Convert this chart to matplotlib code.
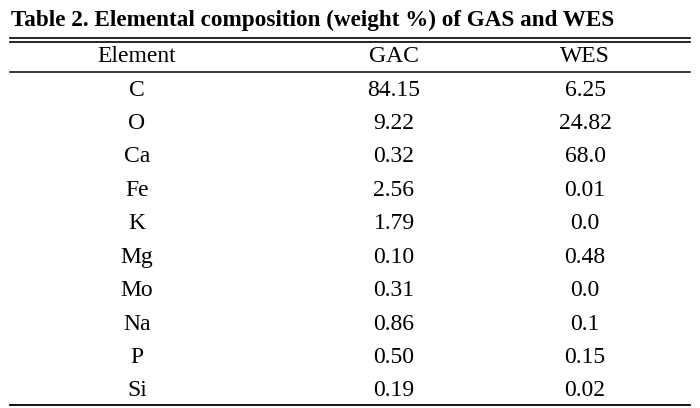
import matplotlib
matplotlib.use("Agg")
import matplotlib.pyplot as plt
from matplotlib.lines import Line2D

title = "Table 2. Elemental composition (weight %) of GAS and WES"
headers = ["Element", "GAC", "WES"]
elements = ["C", "O", "Ca", "Fe", "K", "Mg", "Mo", "Na", "P", "Si"]
gac = ["84.15", "9.22", "0.32", "2.56", "1.79", "0.10", "0.31", "0.86", "0.50", "0.19"]
wes = ["6.25", "24.82", "68.0", "0.01", "0.0", "0.48", "0.0", "0.1", "0.15", "0.02"]

W, H = 700, 408
fig = plt.figure(figsize=(W / 100, H / 100), dpi=100)
fig.patch.set_facecolor("white")

def fx(x):
    return x / W

def fy(y):
    return 1 - y / H

font = "Liberation Serif"
fig.text(fx(11), fy(26), title, fontfamily=font, fontweight="bold", fontsize=16.7,
         ha="left", va="baseline")

def hline(y, lw):
    fig.add_artist(Line2D([fx(10), fx(690)], [fy(y), fy(y)], color="black", lw=lw,
                          transform=fig.transFigure))

hline(37.5, 1.2)
hline(41.5, 1.2)
hline(72, 1.1)
hline(405, 1.3)

col_x = [137, 394, 585]
fs = 17
for cx, h in zip(col_x, headers):
    fig.text(fx(cx), fy(62), h, fontfamily=font, fontsize=fs, ha="center", va="baseline")

for i, (e, g, w) in enumerate(zip(elements, gac, wes)):
    y = 95.7 + 33.4 * i
    for cx, t in zip(col_x, (e, g, w)):
        fig.text(fx(cx), fy(y), t, fontfamily=font, fontsize=fs, ha="center", va="baseline")

fig.savefig("out.png", dpi=100)
